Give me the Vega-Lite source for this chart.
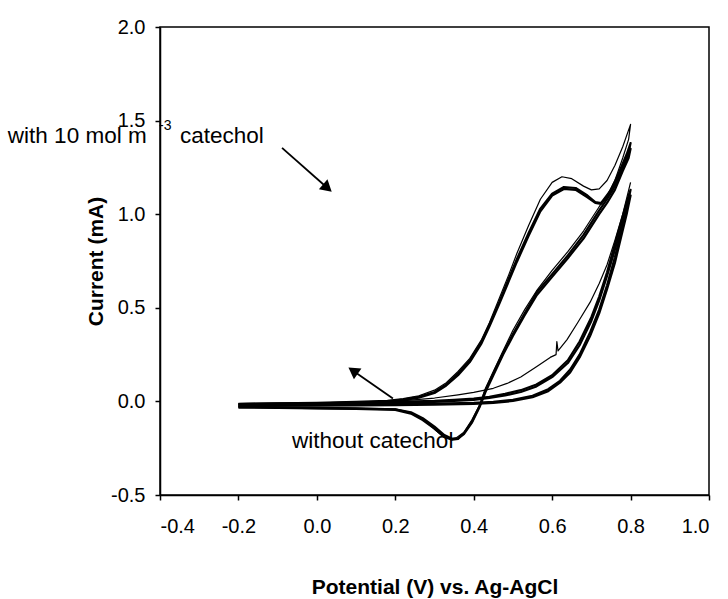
{
  "$schema": "https://vega.github.io/schema/vega-lite/v6.json",
  "width": 549,
  "height": 468,
  "autosize": "none",
  "padding": {"left": 160, "top": 27, "right": 19, "bottom": 104},
  "background": "white",
  "config": {
    "view": {"stroke": "black", "strokeWidth": 1.5},
    "font": "Liberation Sans",
    "axis": {"grid": false, "domainColor": "black", "tickColor": "black", "labelColor": "black", "titleColor": "black", "domainWidth": 1.5, "tickWidth": 1.5, "tickSize": 5, "labelFont": "Liberation Sans", "titleFont": "Liberation Sans", "labelFontSize": 20, "titleFontSize": 21, "titleFontWeight": "bold"}
  },
  "datasets": {
    "curves": [
      {"s":"C1","i":1,"x":-0.2,"y":-0.01},{"s":"C1","i":2,"x":-0.1,"y":-0.008},{"s":"C1","i":3,"x":0.0,"y":-0.005},{"s":"C1","i":4,"x":0.1,"y":0.0},{"s":"C1","i":5,"x":0.18,"y":0.005},{"s":"C1","i":6,"x":0.22,"y":0.015},{"s":"C1","i":7,"x":0.26,"y":0.03},{"s":"C1","i":8,"x":0.3,"y":0.06},{"s":"C1","i":9,"x":0.33,"y":0.1},{"s":"C1","i":10,"x":0.36,"y":0.16},{"s":"C1","i":11,"x":0.39,"y":0.23},{"s":"C1","i":12,"x":0.42,"y":0.33},{"s":"C1","i":13,"x":0.44,"y":0.42},{"s":"C1","i":14,"x":0.465,"y":0.55},{"s":"C1","i":15,"x":0.49,"y":0.68},{"s":"C1","i":16,"x":0.51,"y":0.79},{"s":"C1","i":17,"x":0.54,"y":0.94},{"s":"C1","i":18,"x":0.57,"y":1.08},{"s":"C1","i":19,"x":0.6,"y":1.17},{"s":"C1","i":20,"x":0.625,"y":1.2},{"s":"C1","i":21,"x":0.65,"y":1.19},{"s":"C1","i":22,"x":0.68,"y":1.15},{"s":"C1","i":23,"x":0.7,"y":1.13},{"s":"C1","i":24,"x":0.72,"y":1.135},{"s":"C1","i":25,"x":0.74,"y":1.18},{"s":"C1","i":26,"x":0.76,"y":1.26},{"s":"C1","i":27,"x":0.78,"y":1.36},{"s":"C1","i":28,"x":0.8,"y":1.48},
      {"s":"C1","i":29,"x":0.795,"y":1.4},{"s":"C1","i":30,"x":0.78,"y":1.3},{"s":"C1","i":31,"x":0.76,"y":1.18},{"s":"C1","i":32,"x":0.74,"y":1.1},{"s":"C1","i":33,"x":0.72,"y":1.04},{"s":"C1","i":34,"x":0.68,"y":0.91},{"s":"C1","i":35,"x":0.64,"y":0.8},{"s":"C1","i":36,"x":0.6,"y":0.7},{"s":"C1","i":37,"x":0.56,"y":0.59},{"s":"C1","i":38,"x":0.53,"y":0.49},{"s":"C1","i":39,"x":0.5,"y":0.38},{"s":"C1","i":40,"x":0.475,"y":0.27},{"s":"C1","i":41,"x":0.45,"y":0.16},{"s":"C1","i":42,"x":0.43,"y":0.07},{"s":"C1","i":43,"x":0.415,"y":-0.02},{"s":"C1","i":44,"x":0.395,"y":-0.1},{"s":"C1","i":45,"x":0.375,"y":-0.165},{"s":"C1","i":46,"x":0.355,"y":-0.195},{"s":"C1","i":47,"x":0.34,"y":-0.2},{"s":"C1","i":48,"x":0.32,"y":-0.185},{"s":"C1","i":49,"x":0.295,"y":-0.14},{"s":"C1","i":50,"x":0.27,"y":-0.095},{"s":"C1","i":51,"x":0.24,"y":-0.06},{"s":"C1","i":52,"x":0.2,"y":-0.04},{"s":"C1","i":53,"x":0.1,"y":-0.035},{"s":"C1","i":54,"x":0.0,"y":-0.032},{"s":"C1","i":55,"x":-0.1,"y":-0.03},{"s":"C1","i":56,"x":-0.2,"y":-0.028},

      {"s":"C2","i":1,"x":-0.2,"y":-0.015},{"s":"C2","i":2,"x":-0.1,"y":-0.012},{"s":"C2","i":3,"x":0.0,"y":-0.01},{"s":"C2","i":4,"x":0.1,"y":-0.006},{"s":"C2","i":5,"x":0.18,"y":0.0},{"s":"C2","i":6,"x":0.22,"y":0.01},{"s":"C2","i":7,"x":0.26,"y":0.025},{"s":"C2","i":8,"x":0.3,"y":0.05},{"s":"C2","i":9,"x":0.33,"y":0.09},{"s":"C2","i":10,"x":0.36,"y":0.15},{"s":"C2","i":11,"x":0.39,"y":0.22},{"s":"C2","i":12,"x":0.42,"y":0.32},{"s":"C2","i":13,"x":0.44,"y":0.41},{"s":"C2","i":14,"x":0.465,"y":0.53},{"s":"C2","i":15,"x":0.49,"y":0.66},{"s":"C2","i":16,"x":0.51,"y":0.76},{"s":"C2","i":17,"x":0.54,"y":0.9},{"s":"C2","i":18,"x":0.57,"y":1.03},{"s":"C2","i":19,"x":0.6,"y":1.11},{"s":"C2","i":20,"x":0.63,"y":1.145},{"s":"C2","i":21,"x":0.66,"y":1.14},{"s":"C2","i":22,"x":0.69,"y":1.1},{"s":"C2","i":23,"x":0.71,"y":1.065},{"s":"C2","i":24,"x":0.725,"y":1.06},{"s":"C2","i":25,"x":0.75,"y":1.13},{"s":"C2","i":26,"x":0.77,"y":1.22},{"s":"C2","i":27,"x":0.79,"y":1.32},{"s":"C2","i":28,"x":0.8,"y":1.38},
      {"s":"C2","i":29,"x":0.795,"y":1.33},{"s":"C2","i":30,"x":0.78,"y":1.26},{"s":"C2","i":31,"x":0.76,"y":1.15},{"s":"C2","i":32,"x":0.74,"y":1.08},{"s":"C2","i":33,"x":0.72,"y":1.02},{"s":"C2","i":34,"x":0.68,"y":0.89},{"s":"C2","i":35,"x":0.64,"y":0.78},{"s":"C2","i":36,"x":0.6,"y":0.68},{"s":"C2","i":37,"x":0.56,"y":0.58},{"s":"C2","i":38,"x":0.53,"y":0.47},{"s":"C2","i":39,"x":0.5,"y":0.36},{"s":"C2","i":40,"x":0.475,"y":0.26},{"s":"C2","i":41,"x":0.45,"y":0.15},{"s":"C2","i":42,"x":0.43,"y":0.06},{"s":"C2","i":43,"x":0.415,"y":-0.025},{"s":"C2","i":44,"x":0.395,"y":-0.11},{"s":"C2","i":45,"x":0.375,"y":-0.17},{"s":"C2","i":46,"x":0.36,"y":-0.2},{"s":"C2","i":47,"x":0.345,"y":-0.205},{"s":"C2","i":48,"x":0.325,"y":-0.19},{"s":"C2","i":49,"x":0.3,"y":-0.145},{"s":"C2","i":50,"x":0.27,"y":-0.1},{"s":"C2","i":51,"x":0.24,"y":-0.065},{"s":"C2","i":52,"x":0.2,"y":-0.045},{"s":"C2","i":53,"x":0.1,"y":-0.04},{"s":"C2","i":54,"x":0.0,"y":-0.038},{"s":"C2","i":55,"x":-0.1,"y":-0.035},{"s":"C2","i":56,"x":-0.2,"y":-0.033},

      {"s":"C3","i":1,"x":-0.2,"y":-0.02},{"s":"C3","i":2,"x":0.0,"y":-0.014},{"s":"C3","i":3,"x":0.18,"y":-0.004},{"s":"C3","i":4,"x":0.22,"y":0.006},{"s":"C3","i":5,"x":0.26,"y":0.02},{"s":"C3","i":6,"x":0.3,"y":0.045},{"s":"C3","i":7,"x":0.33,"y":0.085},{"s":"C3","i":8,"x":0.36,"y":0.14},{"s":"C3","i":9,"x":0.39,"y":0.21},{"s":"C3","i":10,"x":0.42,"y":0.31},{"s":"C3","i":11,"x":0.44,"y":0.4},{"s":"C3","i":12,"x":0.465,"y":0.52},{"s":"C3","i":13,"x":0.49,"y":0.645},{"s":"C3","i":14,"x":0.51,"y":0.745},{"s":"C3","i":15,"x":0.54,"y":0.885},{"s":"C3","i":16,"x":0.57,"y":1.015},{"s":"C3","i":17,"x":0.6,"y":1.1},{"s":"C3","i":18,"x":0.63,"y":1.135},{"s":"C3","i":19,"x":0.66,"y":1.13},{"s":"C3","i":20,"x":0.69,"y":1.09},{"s":"C3","i":21,"x":0.71,"y":1.06},{"s":"C3","i":22,"x":0.725,"y":1.055},{"s":"C3","i":23,"x":0.75,"y":1.12},{"s":"C3","i":24,"x":0.77,"y":1.2},{"s":"C3","i":25,"x":0.79,"y":1.3},{"s":"C3","i":26,"x":0.8,"y":1.35},
      {"s":"C3","i":27,"x":0.795,"y":1.3},{"s":"C3","i":28,"x":0.78,"y":1.23},{"s":"C3","i":29,"x":0.76,"y":1.13},{"s":"C3","i":30,"x":0.74,"y":1.06},{"s":"C3","i":31,"x":0.72,"y":1.0},{"s":"C3","i":32,"x":0.68,"y":0.87},{"s":"C3","i":33,"x":0.64,"y":0.765},{"s":"C3","i":34,"x":0.6,"y":0.665},{"s":"C3","i":35,"x":0.56,"y":0.565},{"s":"C3","i":36,"x":0.53,"y":0.46},{"s":"C3","i":37,"x":0.5,"y":0.35},{"s":"C3","i":38,"x":0.475,"y":0.25},{"s":"C3","i":39,"x":0.45,"y":0.14},{"s":"C3","i":40,"x":0.43,"y":0.05},{"s":"C3","i":41,"x":0.415,"y":-0.03},{"s":"C3","i":42,"x":0.395,"y":-0.115},{"s":"C3","i":43,"x":0.375,"y":-0.175},{"s":"C3","i":44,"x":0.36,"y":-0.198},{"s":"C3","i":45,"x":0.345,"y":-0.2},{"s":"C3","i":46,"x":0.325,"y":-0.18},{"s":"C3","i":47,"x":0.3,"y":-0.135},{"s":"C3","i":48,"x":0.27,"y":-0.09},{"s":"C3","i":49,"x":0.24,"y":-0.058},{"s":"C3","i":50,"x":0.2,"y":-0.042},{"s":"C3","i":51,"x":0.0,"y":-0.036},{"s":"C3","i":52,"x":-0.2,"y":-0.03},

      {"s":"B1","i":1,"x":-0.2,"y":-0.02},{"s":"B1","i":2,"x":0.0,"y":-0.018},{"s":"B1","i":3,"x":0.2,"y":-0.015},{"s":"B1","i":4,"x":0.3,"y":-0.012},{"s":"B1","i":5,"x":0.4,"y":-0.008},{"s":"B1","i":6,"x":0.45,"y":-0.002},{"s":"B1","i":7,"x":0.5,"y":0.008},{"s":"B1","i":8,"x":0.55,"y":0.03},{"s":"B1","i":9,"x":0.59,"y":0.065},{"s":"B1","i":10,"x":0.62,"y":0.11},{"s":"B1","i":11,"x":0.646,"y":0.17},{"s":"B1","i":12,"x":0.67,"y":0.25},{"s":"B1","i":13,"x":0.697,"y":0.37},{"s":"B1","i":14,"x":0.72,"y":0.49},{"s":"B1","i":15,"x":0.74,"y":0.62},{"s":"B1","i":16,"x":0.76,"y":0.77},{"s":"B1","i":17,"x":0.775,"y":0.9},{"s":"B1","i":18,"x":0.79,"y":1.03},{"s":"B1","i":19,"x":0.8,"y":1.13},
      {"s":"B1","i":20,"x":0.795,"y":1.1},{"s":"B1","i":21,"x":0.78,"y":0.99},{"s":"B1","i":22,"x":0.76,"y":0.84},{"s":"B1","i":23,"x":0.74,"y":0.69},{"s":"B1","i":24,"x":0.72,"y":0.56},{"s":"B1","i":25,"x":0.7,"y":0.45},{"s":"B1","i":26,"x":0.67,"y":0.32},{"s":"B1","i":27,"x":0.64,"y":0.22},{"s":"B1","i":28,"x":0.6,"y":0.14},{"s":"B1","i":29,"x":0.56,"y":0.09},{"s":"B1","i":30,"x":0.52,"y":0.06},{"s":"B1","i":31,"x":0.48,"y":0.04},{"s":"B1","i":32,"x":0.44,"y":0.025},{"s":"B1","i":33,"x":0.4,"y":0.015},{"s":"B1","i":34,"x":0.35,"y":0.008},{"s":"B1","i":35,"x":0.3,"y":0.003},{"s":"B1","i":36,"x":0.2,"y":-0.002},{"s":"B1","i":37,"x":0.1,"y":-0.006},{"s":"B1","i":38,"x":0.0,"y":-0.01},{"s":"B1","i":39,"x":-0.2,"y":-0.014},

      {"s":"B2","i":1,"x":-0.2,"y":-0.025},{"s":"B2","i":2,"x":0.0,"y":-0.023},{"s":"B2","i":3,"x":0.2,"y":-0.02},{"s":"B2","i":4,"x":0.3,"y":-0.018},{"s":"B2","i":5,"x":0.4,"y":-0.014},{"s":"B2","i":6,"x":0.45,"y":-0.008},{"s":"B2","i":7,"x":0.5,"y":0.002},{"s":"B2","i":8,"x":0.55,"y":0.022},{"s":"B2","i":9,"x":0.59,"y":0.055},{"s":"B2","i":10,"x":0.62,"y":0.1},{"s":"B2","i":11,"x":0.646,"y":0.155},{"s":"B2","i":12,"x":0.67,"y":0.235},{"s":"B2","i":13,"x":0.697,"y":0.35},{"s":"B2","i":14,"x":0.72,"y":0.47},{"s":"B2","i":15,"x":0.74,"y":0.6},{"s":"B2","i":16,"x":0.76,"y":0.74},{"s":"B2","i":17,"x":0.775,"y":0.87},{"s":"B2","i":18,"x":0.79,"y":1.0},{"s":"B2","i":19,"x":0.8,"y":1.1},
      {"s":"B2","i":20,"x":0.795,"y":1.07},{"s":"B2","i":21,"x":0.78,"y":0.96},{"s":"B2","i":22,"x":0.76,"y":0.81},{"s":"B2","i":23,"x":0.74,"y":0.67},{"s":"B2","i":24,"x":0.72,"y":0.54},{"s":"B2","i":25,"x":0.7,"y":0.43},{"s":"B2","i":26,"x":0.67,"y":0.3},{"s":"B2","i":27,"x":0.64,"y":0.205},{"s":"B2","i":28,"x":0.6,"y":0.13},{"s":"B2","i":29,"x":0.56,"y":0.08},{"s":"B2","i":30,"x":0.52,"y":0.05},{"s":"B2","i":31,"x":0.48,"y":0.032},{"s":"B2","i":32,"x":0.44,"y":0.018},{"s":"B2","i":33,"x":0.4,"y":0.008},{"s":"B2","i":34,"x":0.35,"y":0.002},{"s":"B2","i":35,"x":0.3,"y":-0.003},{"s":"B2","i":36,"x":0.2,"y":-0.008},{"s":"B2","i":37,"x":0.0,"y":-0.015},{"s":"B2","i":38,"x":-0.2,"y":-0.02},

      {"s":"S","i":1,"x":0.2,"y":0.0},{"s":"S","i":2,"x":0.3,"y":0.018},{"s":"S","i":3,"x":0.36,"y":0.035},{"s":"S","i":4,"x":0.4,"y":0.048},{"s":"S","i":5,"x":0.45,"y":0.07},{"s":"S","i":6,"x":0.485,"y":0.096},{"s":"S","i":7,"x":0.52,"y":0.13},{"s":"S","i":8,"x":0.56,"y":0.185},{"s":"S","i":9,"x":0.595,"y":0.235},{"s":"S","i":10,"x":0.61,"y":0.25},{"s":"S","i":11,"x":0.612,"y":0.32},{"s":"S","i":12,"x":0.615,"y":0.27},{"s":"S","i":13,"x":0.638,"y":0.33},{"s":"S","i":14,"x":0.665,"y":0.42},{"s":"S","i":15,"x":0.697,"y":0.53},{"s":"S","i":16,"x":0.72,"y":0.63},{"s":"S","i":17,"x":0.74,"y":0.73},{"s":"S","i":18,"x":0.76,"y":0.86},{"s":"S","i":19,"x":0.78,"y":1.0},{"s":"S","i":20,"x":0.8,"y":1.17}
    ],
    "labels": [
      {"k":"big","x":-0.788,"y":1.419,"t":"with 10 mol m"},
      {"k":"big","x":-0.349,"y":1.419,"t":"catechol"},
      {"k":"big","x":-0.0633,"y":-0.209,"t":"without catechol"},
      {"k":"sup","x":-0.4026,"y":1.472,"t":"-3"}
    ],
    "arrows": [
      {"a":"A1","x":-0.0888,"y":1.354,"x2":0.027,"y2":1.14},
      {"a":"A2","x":0.194,"y":0.016,"x2":0.0923,"y2":0.164}
    ]
  },
  "encoding": {
    "x": {"field": "x", "type": "quantitative",
      "scale": {"domain": [-0.4, 1.0], "nice": false, "zero": false},
      "axis": {"values": [-0.4, -0.2, 0, 0.2, 0.4, 0.6, 0.8, 1.0],
        "labelExpr": "datum.value < 0 ? '-' + format(-datum.value, '.1f') : format(datum.value, '.1f')",
        "title": "Potential (V) vs. Ag-AgCl", "labelPadding": 16, "titlePadding": 40}},
    "y": {"field": "y", "type": "quantitative",
      "scale": {"domain": [-0.5, 2.0], "nice": false, "zero": false},
      "axis": {"values": [-0.5, 0, 0.5, 1.0, 1.5, 2.0],
        "labelExpr": "datum.value < 0 ? '-' + format(-datum.value, '.1f') : format(datum.value, '.1f')",
        "title": "Current (mA)", "labelPadding": 10, "titlePadding": 4}}
  },
  "layer": [
    {"data": {"name": "labels"}, "transform": [{"filter": "datum.k == 'big'"}],
     "mark": {"type": "text", "align": "left", "baseline": "middle", "fontSize": 22.5, "font": "Liberation Sans", "color": "black"},
     "encoding": {"text": {"field": "t"}}},
    {"data": {"name": "labels"}, "transform": [{"filter": "datum.k == 'sup'"}],
     "mark": {"type": "text", "align": "left", "baseline": "middle", "fontSize": 14, "font": "Liberation Sans", "color": "black"},
     "encoding": {"text": {"field": "t"}}},
    {"data": {"name": "curves"}, "transform": [{"filter": "datum.s != 'C1' && datum.s != 'S'"}],
     "mark": {"type": "line", "color": "black", "strokeWidth": 2.2, "strokeJoin": "round", "clip": true},
     "encoding": {"detail": {"field": "s"}, "order": {"field": "i", "type": "quantitative"}}},
    {"data": {"name": "curves"}, "transform": [{"filter": "datum.s == 'C1' || datum.s == 'S'"}],
     "mark": {"type": "line", "color": "black", "strokeWidth": 1.2, "strokeJoin": "round", "clip": true},
     "encoding": {"detail": {"field": "s"}, "order": {"field": "i", "type": "quantitative"}}},
    {"data": {"name": "arrows"},
     "mark": {"type": "rule", "color": "black", "strokeWidth": 1.8},
     "encoding": {"x2": {"field": "x2"}, "y2": {"field": "y2"}}},
    {"data": {"name": "arrows"}, "transform": [{"filter": "datum.a == 'A1'"}],
     "mark": {"type": "point", "shape": "triangle-up", "filled": true, "color": "black", "opacity": 1, "size": 170, "angle": 131},
     "encoding": {"x": {"field": "x2", "type": "quantitative"}, "y": {"field": "y2", "type": "quantitative"}}},
    {"data": {"name": "arrows"}, "transform": [{"filter": "datum.a == 'A2'"}],
     "mark": {"type": "point", "shape": "triangle-up", "filled": true, "color": "black", "opacity": 1, "size": 170, "angle": 305},
     "encoding": {"x": {"field": "x2", "type": "quantitative"}, "y": {"field": "y2", "type": "quantitative"}}}
  ]
}
